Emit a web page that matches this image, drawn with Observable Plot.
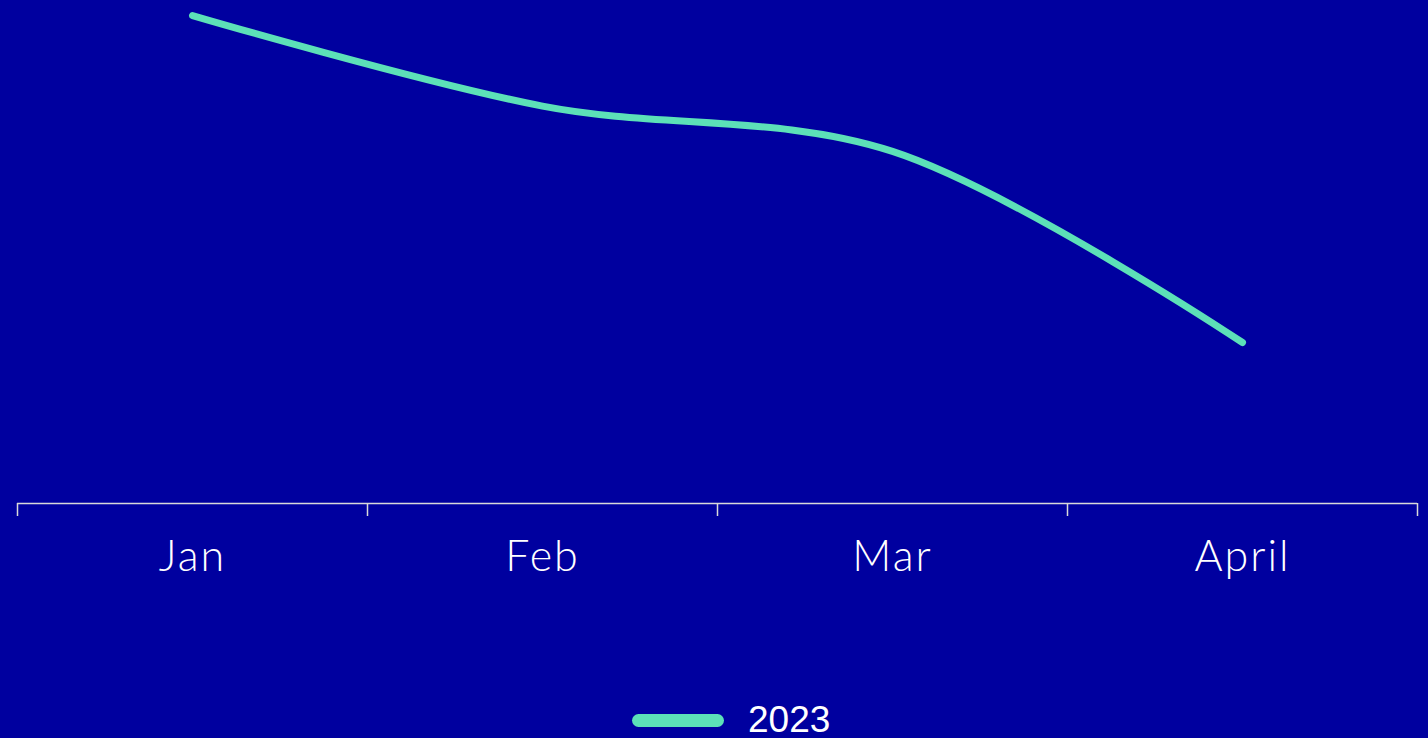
<!DOCTYPE html>
<html>
<head>
<meta charset="utf-8">
<script src="https://cdn.jsdelivr.net/npm/d3@7"></script>
<script src="https://cdn.jsdelivr.net/npm/@observablehq/plot@0.6"></script>
<style>
  html, body { margin: 0; padding: 0; background: #00009f; width: 1428px; height: 738px; overflow: hidden; }
  #wrap { position: relative; width: 1428px; height: 738px; }
  #legend { position: absolute; left: 0; top: 690px; width: 1428px; height: 48px; }
  #legend .sw { position: absolute; left: 632px; top: 24px; width: 92px; height: 13px; border-radius: 7px; background: #5ce0b8; }
  #legend .lb { position: absolute; left: 748px; top: 11px; font-family: "Liberation Sans", Arial, sans-serif; font-size: 37px; line-height: 37px; color: #ffffff; }
</style>
</head>
<body>
<div id="wrap">
  <div id="chart"></div>
  <div id="legend"><div class="sw"></div><div class="lb"></div></div>
</div>
<script>
const months = ["Jan", "Feb", "Mar", "April"];
const values2023 = [97, 79, 70, 32];
const seriesName = "2023";

const data = months.map((m, i) => ({month: m, idx: i + 0.5, value: values2023[i]}));
const boundaries = d3.range(months.length + 1);

const chart = Plot.plot({
  width: 1428,
  height: 690,
  marginLeft: 17,
  marginRight: 11,
  marginTop: 0,
  marginBottom: 187,
  style: {background: "transparent", overflow: "visible"},
  x: {domain: [0, months.length], axis: null, label: null},
  y: {domain: [0, 100], axis: null, label: null},
  marks: [
    Plot.ruleY([0], {stroke: "#d9d9d9", strokeWidth: 1.5}),
    Plot.axisX(boundaries, {anchor: "bottom", tickSize: 13, tickFormat: () => "", label: null,
      stroke: "#d9d9d9", strokeWidth: 1.5, strokeOpacity: 1}),
    Plot.text(data, {x: "idx", y: 0, text: "month", dy: 54, lineAnchor: "middle", fill: "#ffffff",
      fontSize: 43, fontWeight: 300, fontFamily: "Lato, 'Open Sans', sans-serif"}),
    Plot.line(data, {x: "idx", y: "value", curve: "catmull-rom", stroke: "#5ce0b8", strokeWidth: 7,
      strokeLinecap: "round", strokeLinejoin: "round"})
  ]
});
document.getElementById("chart").appendChild(chart);
chart.querySelectorAll("g[aria-label=text] text").forEach(t => t.setAttribute("letter-spacing", "2"));
document.querySelector("#legend .lb").textContent = seriesName;
</script>
</body>
</html>
